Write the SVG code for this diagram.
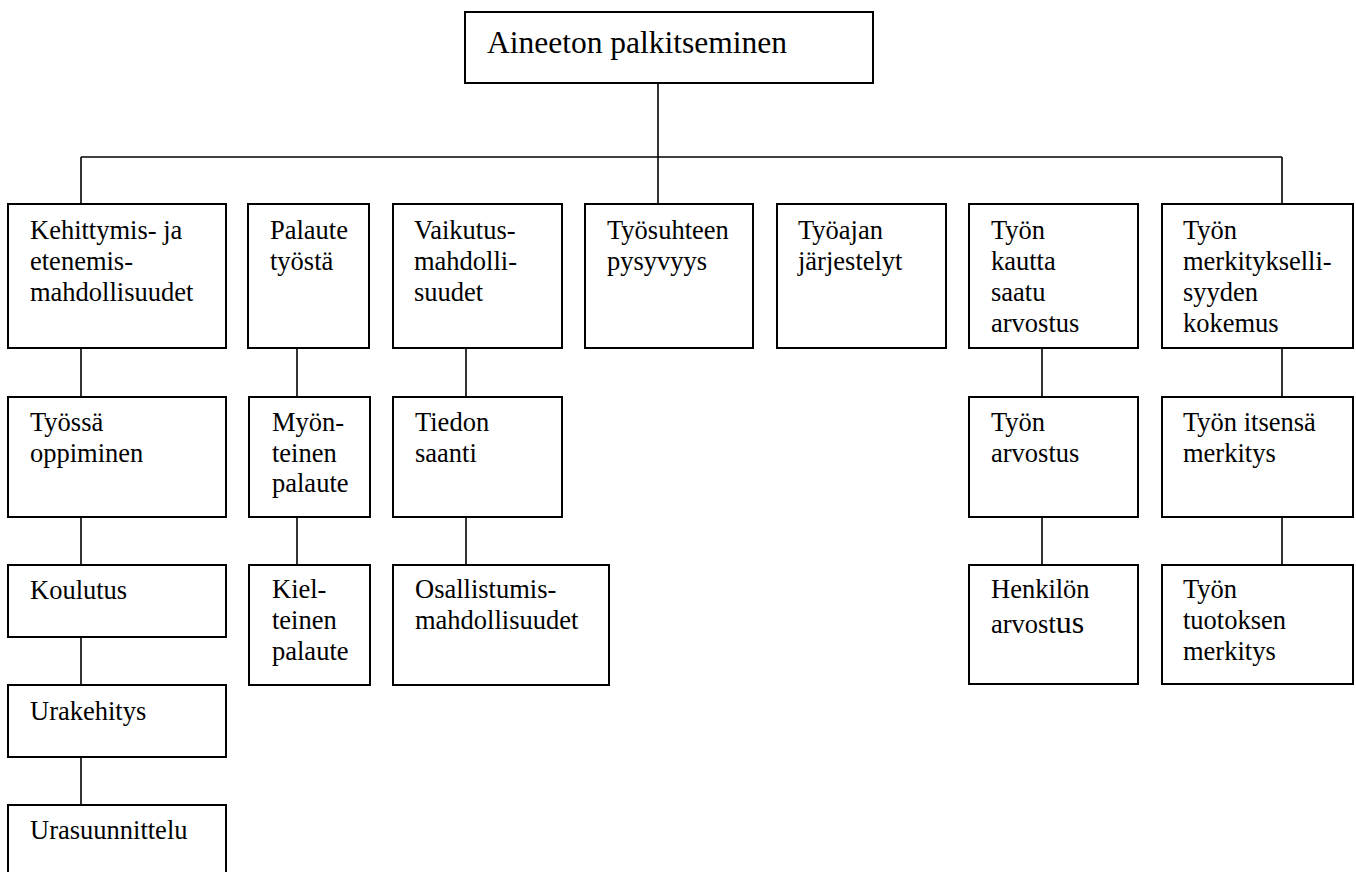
<svg xmlns="http://www.w3.org/2000/svg" width="1356" height="872" viewBox="0 0 1356 872">
<style>
rect{fill:#fff;stroke:#000;stroke-width:2}
text{font-family:"Liberation Serif","Times New Roman",serif;font-size:26.5px;fill:#000}
.c line{stroke:#000;stroke-width:1.6}
.t{font-size:31.5px}
</style>
<rect x="0" y="0" width="1356" height="872" style="stroke:none"/>
<g class="c" id="connectors">
<line x1="658" y1="83" x2="658" y2="204"/>
<line x1="81" y1="157" x2="1282" y2="157"/>
<line x1="81" y1="157" x2="81" y2="204"/>
<line x1="1282" y1="157" x2="1282" y2="204"/>
<line x1="81" y1="348" x2="81" y2="397"/>
<line x1="81" y1="517" x2="81" y2="565"/>
<line x1="81" y1="637" x2="81" y2="685"/>
<line x1="81" y1="757" x2="81" y2="805"/>
<line x1="297" y1="348" x2="297" y2="397"/>
<line x1="297" y1="517" x2="297" y2="565"/>
<line x1="466" y1="348" x2="466" y2="397"/>
<line x1="466" y1="517" x2="466" y2="565"/>
<line x1="1042" y1="348" x2="1042" y2="397"/>
<line x1="1042" y1="517" x2="1042" y2="565"/>
<line x1="1282" y1="348" x2="1282" y2="397"/>
<line x1="1282" y1="517" x2="1282" y2="565"/>
</g>
<g id="root"><rect x="465" y="12" width="408" height="71"/><text class="t" x="487" y="53">Aineeton palkitseminen</text></g>
<g id="n1"><rect x="8" y="204" width="218" height="144"/><text x="30" y="239">Kehittymis- ja</text><text x="30" y="270">etenemis-</text><text x="30" y="301">mahdollisuudet</text></g>
<g id="n2"><rect x="248" y="204" width="121" height="144"/><text x="270" y="239">Palaute</text><text x="270" y="270">työstä</text></g>
<g id="n3"><rect x="393" y="204" width="169" height="144"/><text x="414" y="239">Vaikutus-</text><text x="414" y="270">mahdolli-</text><text x="414" y="301">suudet</text></g>
<g id="n4"><rect x="585" y="204" width="168" height="144"/><text x="607" y="239">Työsuhteen</text><text x="607" y="270">pysyvyys</text></g>
<g id="n5"><rect x="777" y="204" width="169" height="144"/><text x="798" y="239">Työajan</text><text x="798" y="270">järjestelyt</text></g>
<g id="n6"><rect x="969" y="204" width="169" height="144"/><text x="991" y="239">Työn</text><text x="991" y="270">kautta</text><text x="991" y="301">saatu</text><text x="991" y="332">arvostus</text></g>
<g id="n7"><rect x="1162" y="204" width="191" height="144"/><text x="1183" y="239">Työn</text><text x="1183" y="270">merkitykselli-</text><text x="1183" y="301">syyden</text><text x="1183" y="332">kokemus</text></g>
<g id="n1a"><rect x="8" y="397" width="218" height="120"/><text x="30" y="431">Työssä</text><text x="30" y="462">oppiminen</text></g>
<g id="n1b"><rect x="8" y="565" width="218" height="72"/><text x="30" y="599">Koulutus</text></g>
<g id="n1c"><rect x="8" y="685" width="218" height="72"/><text x="30" y="720">Urakehitys</text></g>
<g id="n1d"><rect x="8" y="805" width="218" height="100"/><text x="30" y="839">Urasuunnittelu</text></g>
<g id="n2a"><rect x="249" y="397" width="121" height="120"/><text x="272" y="431">Myön-</text><text x="272" y="462">teinen</text><text x="272" y="492">palaute</text></g>
<g id="n2b"><rect x="249" y="565" width="121" height="120"/><text x="272" y="598">Kiel-</text><text x="272" y="629">teinen</text><text x="272" y="660">palaute</text></g>
<g id="n3a"><rect x="393" y="397" width="169" height="120"/><text x="415" y="431">Tiedon</text><text x="415" y="462">saanti</text></g>
<g id="n3b"><rect x="393" y="565" width="216" height="120"/><text x="415" y="598">Osallistumis-</text><text x="415" y="629">mahdollisuudet</text></g>
<g id="n6a"><rect x="969" y="397" width="169" height="120"/><text x="991" y="431">Työn</text><text x="991" y="462">arvostus</text></g>
<g id="n6b"><rect x="969" y="565" width="169" height="119"/><text x="991" y="598">Henkilön</text><text x="991" y="633">arvost<tspan style="font-size:32px">us</tspan></text></g>
<g id="n7a"><rect x="1162" y="397" width="191" height="120"/><text x="1183" y="431">Työn itsensä</text><text x="1183" y="462">merkitys</text></g>
<g id="n7b"><rect x="1162" y="565" width="191" height="119"/><text x="1183" y="598">Työn</text><text x="1183" y="629">tuotoksen</text><text x="1183" y="660">merkitys</text></g>
</svg>
